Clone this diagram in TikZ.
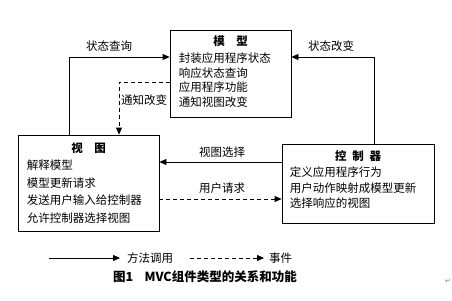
\documentclass[tikz,border=0pt]{standalone}
\usepackage{fontspec}
\setmainfont{Noto Sans CJK SC}
\newfontfamily\symfont{DejaVu Sans}
\usetikzlibrary{arrows.meta,positioning}

\begin{document}
\begin{tikzpicture}[
  x=1pt, y=-1pt,
  box/.style={rectangle, draw, line width=0.8pt, inner sep=0pt},
  ttl/.style={font=\fontsize{11.5}{14}\selectfont\bfseries, inner sep=0pt},
  body/.style={align=left, inner sep=0pt,
               font=\fontsize{11.5}{#1}\selectfont},
  lbl/.style={font=\fontsize{11.5}{14}\selectfont, inner sep=1pt},
  arr/.style={draw, line width=0.8pt, -{Triangle[length=7pt,width=6pt]}},
  evt/.style={arr, dash pattern=on 4pt off 3pt}
]
\useasboundingbox (0,0) rectangle (452,300);
% the three components
\node[box, minimum width=121pt, minimum height=87pt] (model) at (230.5,73.5) {};
\node[box, minimum width=141pt, minimum height=96pt] (view)  at (88.5,183) {};
\node[box, minimum width=152pt, minimum height=79pt] (ctrl)  at (358,183.5) {};
\node[ttl, below=6pt of model.north] (modelT) {模\quad 型};
\node[body=14.7, below right=23pt and 9pt of model.north west] (modelB)
  {封装应用程序状态\\响应状态查询\\应用程序功能\\通知视图改变};
\node[ttl, below=7.5pt of view.north] (viewT) {视\quad 图};
\node[body=17.7, below right=25pt and 9pt of view.north west] (viewB)
  {解释模型\\模型更新请求\\发送用户输入给控制器\\允许控制器选择视图};
\node[ttl, below=7pt of ctrl.north] (ctrlT) {控\enspace 制\enspace 器};
\node[body=15.7, below right=23pt and 8pt of ctrl.north west] (ctrlB)
  {定义应用程序行为\\用户动作映射成模型更新\\选择响应的视图};
% connectors
\coordinate (sq) at (69,57);
\coordinate (tz) at (119,82);
\coordinate (sg) at (374,57);
\coordinate (xz) at (0,162);
\coordinate (yq) at (0,199);
\draw[arr] (sq |- view.north) |- (sq -| model.west);
\draw[evt] (tz -| model.west) -| (tz |- view.north);
\draw[arr] (sg |- ctrl.north) |- (sg -| model.east);
\draw[arr] (xz -| ctrl.west) -- (xz -| view.east);
\draw[evt] (yq -| view.east) -- (yq -| ctrl.west);
\node[lbl] (sqL) at (109,46) {状态查询};
\node[lbl, anchor=west] (tzL) at (120,100) {通知改变};
\node[lbl] (sgL) at (331,46) {状态改变};
\node[lbl] (xzL) at (222,152) {视图选择};
\node[lbl] (yqL) at (222,188) {用户请求};
% legend
\node[lbl, anchor=west, inner xsep=7pt] (ffL) at (120,258) {方法调用};
\node[lbl, anchor=west, inner xsep=5pt] (sjL) at (264,258) {事件};
\coordinate (l1) at (49,258);
\coordinate (l2) at (190,258);
\draw[arr] (l1) -- (ffL.west);
\draw[evt] (l2) -- (sjL.west);
\node[font=\fontsize{12.5}{15}\selectfont\bfseries] (cap) at (205,277)
  {图1\hspace{0.9em}MVC组件类型的关系和功能};
\node[font=\symfont\fontsize{7}{8}\selectfont, text=gray] (pm) at (448,281) {↵};
\end{tikzpicture}
\end{document}
